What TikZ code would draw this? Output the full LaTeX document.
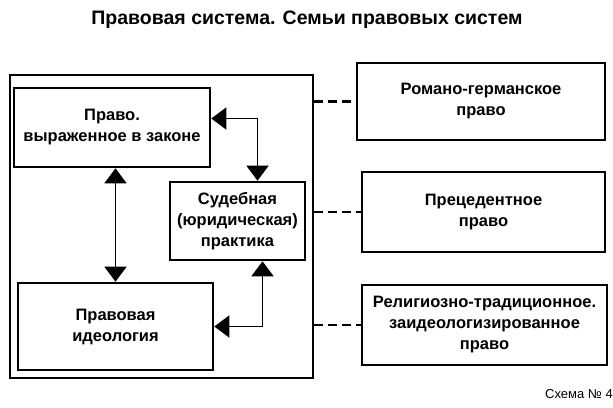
\documentclass[tikz,border=0pt]{standalone}
\usepackage{fontspec}
\setmainfont{Liberation Sans}
\usetikzlibrary{arrows.meta,positioning,calc}
\tikzstyle{blk}=[draw,line width=2.6pt,align=center,font=\fontsize{16.5}{21}\selectfont\bfseries,inner sep=1pt]
\tikzstyle{frame}=[draw,line width=2.6pt,inner sep=0pt]
\tikzstyle{dbl}=[{Triangle[length=15pt,width=22pt]}-{Triangle[length=15pt,width=22pt]},line width=1.6pt]
\tikzstyle{link}=[line width=2.2pt,dash pattern=on 9pt off 5pt]
\begin{document}
\begin{tikzpicture}[x=1pt,y=-1pt]
\useasboundingbox (0,0) rectangle (613,407);
\node (title) at (307,20) {\fontsize{19.5}{23}\selectfont\bfseries Правовая система. Семьи правовых систем};
\node (sys) [frame,minimum width=303pt,minimum height=303pt] at (161.5,226.5) {};
\node (pravo) [blk,minimum width=196pt,minimum height=79pt] at (112,127.5) {Право.\\выраженное в законе};
\node (sud) [blk,minimum width=135pt,minimum height=78pt] at (237.5,221) {Судебная\\(юридическая)\\практика};
\node (ideol) [blk,minimum width=195pt,minimum height=87pt] at (115.5,326.5) {Правовая\\идеология};
\node (rom) [blk,minimum width=248pt,minimum height=77pt] at (481,101.5) {Романо-германское\\право};
\node (prec) [blk,minimum width=243pt,minimum height=80pt] at (483.5,212) {Прецедентное\\право};
\node (relig) [blk,minimum width=245pt,minimum height=80pt] at (484.5,325) {Религиозно-традиционное.\\заидеологизированное\\право};
\node (cap) at (579,394) {\fontsize{13}{15}\selectfont Схема № 4};
% links inside the system
\draw[dbl] (pravo.south -| ideol) -- (ideol.north);
\draw[dbl] ([yshift=9pt]pravo.east) -| ([xshift=20pt]sud.north);
\draw[dbl] ([xshift=25pt]sud.south) |- (ideol.east);
% families
\draw[link] (sys.east |- rom) -- (rom);
\draw[link] (sys.east |- prec) -- (prec);
\draw[link] (sys.east |- relig) -- (relig);
\end{tikzpicture}
\end{document}
